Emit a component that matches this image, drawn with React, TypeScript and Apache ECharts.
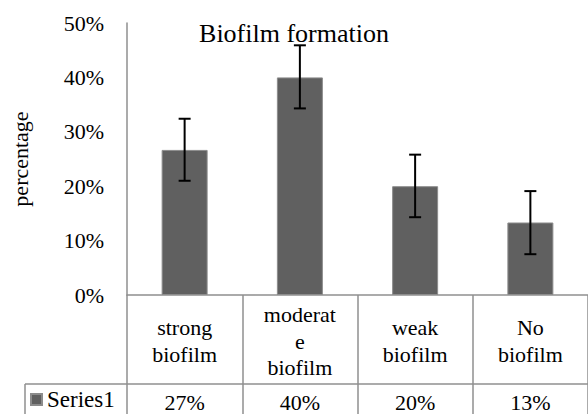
import React, { useEffect, useRef } from "react";
import * as echarts from "echarts";

const categories = ["strong\nbiofilm", "moderat\ne\nbiofilm", "weak\nbiofilm", "No\nbiofilm"];
const values = [26.67, 40.0, 20.0, 13.33];
const errLow = [21.0, 34.3, 14.3, 7.5];
const errHigh = [32.4, 45.9, 25.8, 19.1];
const yTicks = { min: 0, max: 50, interval: 10 };
const seriesName = "Series1";
const titleText = "Biofilm formation";
const yName = "percentage";

const FONT = "Liberation Serif";
const GRID_LINE = "#8f8f8f";

export default function App() {
  const ref = useRef<HTMLDivElement>(null);
  useEffect(() => {
    if (!ref.current) return;
    const chart = echarts.init(ref.current, null, { renderer: "svg" });
    const errData = values.map((_, i) => [i, errLow[i], errHigh[i]]);
    chart.setOption({
      animation: false,
      backgroundColor: "#ffffff",
      title: {
        text: titleText,
        left: "center",
        top: 15,
        textStyle: { fontFamily: FONT, fontSize: 26, fontWeight: "normal", color: "#000" },
      },
      legend: {
        data: [seriesName],
        left: 30,
        top: 388,
        icon: "rect",
        itemWidth: 11,
        itemHeight: 11,
        itemGap: 4,
        padding: 0,
        textStyle: { fontFamily: FONT, fontSize: 23, color: "#000" },
      },
      grid: { left: 127, top: 23, width: 464, height: 272, containLabel: false },
      xAxis: [
        {
          type: "category",
          data: categories,
          axisLine: { show: true, lineStyle: { color: GRID_LINE, width: 1.5 } },
          axisTick: { show: true, interval: 0, length: 119, lineStyle: { color: GRID_LINE, width: 1.5 } },
          axisLabel: {
            interval: 0,
            margin: 46,
            verticalAlign: "middle",
            fontFamily: FONT,
            fontSize: 22,
            lineHeight: 26.5,
            color: "#000",
          },
        },
        {
          type: "category",
          data: categories,
          position: "bottom",
          axisLine: { show: false },
          axisTick: { show: false },
          axisLabel: {
            interval: 0,
            margin: 107,
            verticalAlign: "middle",
            fontFamily: FONT,
            fontSize: 22,
            color: "#000",
            formatter: (_: string, idx: number) => `${Math.round(values[idx])}%`,
          },
        },
      ],
      yAxis: {
        type: "value",
        min: yTicks.min,
        max: yTicks.max,
        interval: yTicks.interval,
        name: yName,
        nameLocation: "middle",
        nameRotate: 90,
        nameGap: 96,
        nameTextStyle: { fontFamily: FONT, fontSize: 22, color: "#000" },
        axisLine: { show: true, lineStyle: { color: GRID_LINE, width: 1.5 } },
        axisTick: { show: false },
        splitLine: { show: false },
        axisLabel: {
          margin: 23,
          fontFamily: FONT,
          fontSize: 22,
          color: "#000",
          formatter: (v: number) => `${v}%`,
        },
      },
      series: [
        {
          name: seriesName,
          type: "bar",
          data: values,
          barWidth: 46,
          itemStyle: { color: "#606060", borderColor: "#8c8c8c", borderWidth: 1 },
        },
        {
          name: "err",
          type: "custom",
          data: errData,
          encode: { x: 0, y: [1, 2] },
          z: 10,
          renderItem: (params: any, api: any) => {
            const idx = api.value(0);
            const lo = api.coord([idx, api.value(1)]);
            const hi = api.coord([idx, api.value(2)]);
            const half = 6;
            const style = { stroke: "#000", lineWidth: 2 };
            return {
              type: "group",
              children: [
                { type: "line", shape: { x1: hi[0], y1: hi[1], x2: lo[0], y2: lo[1] }, style },
                { type: "line", shape: { x1: hi[0] - half, y1: hi[1], x2: hi[0] + half, y2: hi[1] }, style },
                { type: "line", shape: { x1: lo[0] - half, y1: lo[1], x2: lo[0] + half, y2: lo[1] }, style },
              ],
            };
          },
        },
      ],
      graphic: [
        { type: "line", shape: { x1: 25, y1: 384, x2: 588, y2: 384 }, style: { stroke: GRID_LINE, lineWidth: 1.5 } },
        { type: "line", shape: { x1: 25, y1: 384, x2: 25, y2: 414 }, style: { stroke: GRID_LINE, lineWidth: 1.5 } },
      ],
    });
    return () => chart.dispose();
  }, []);
  return (
    <div
      ref={ref}
      style={{ position: "fixed", left: 0, top: 0, width: 588, height: 414, background: "#fff" }}
    />
  );
}
